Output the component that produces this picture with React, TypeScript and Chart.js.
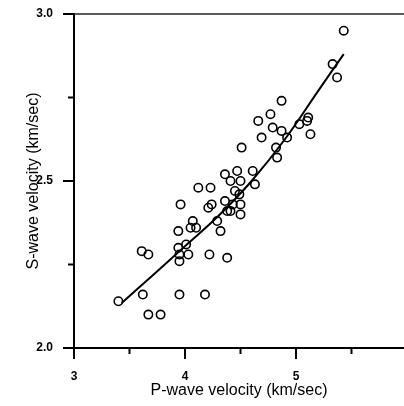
import { useEffect, useRef } from "react";
import { Chart, registerables } from "chart.js";

Chart.register(...registerables);

// Observed samples: P-wave velocity (km/sec) vs S-wave velocity (km/sec)
const pWave = [
  5.43, 5.33, 5.37, 4.87, 4.77, 4.66, 4.79, 4.87, 4.92, 4.69,
  4.51, 4.82, 4.83, 5.03, 5.10, 5.11, 5.13, 4.36, 4.47, 4.61,
  4.12, 4.23, 4.41, 4.50, 4.63, 3.96, 4.21, 4.24, 4.36, 4.43,
  4.50, 4.38, 4.50, 4.45, 4.49, 4.07, 4.05, 4.10, 4.29, 3.94,
  4.32, 4.01, 3.94, 3.61, 3.67, 3.95, 4.03, 3.95, 4.22, 4.38,
  3.40, 3.62, 3.95, 4.18, 3.67, 3.78, 4.41,
];
const sWave = [
  2.95, 2.85, 2.81, 2.74, 2.70, 2.68, 2.66, 2.65, 2.63, 2.63,
  2.60, 2.60, 2.57, 2.67, 2.68, 2.69, 2.64, 2.52, 2.53, 2.53,
  2.48, 2.48, 2.50, 2.50, 2.49, 2.43, 2.42, 2.43, 2.44, 2.43,
  2.43, 2.41, 2.40, 2.47, 2.46, 2.38, 2.36, 2.36, 2.38, 2.35,
  2.35, 2.31, 2.30, 2.29, 2.28, 2.28, 2.28, 2.26, 2.28, 2.27,
  2.14, 2.16, 2.16, 2.16, 2.10, 2.10, 2.41,
];

// Fitted curve
const fitP = [3.43, 3.7, 4.0, 4.3, 4.6, 4.9, 5.2, 5.43];
const fitS = [2.135, 2.215, 2.305, 2.395, 2.5, 2.625, 2.77, 2.88];

const xTickValues = [3, 3.5, 4, 4.5, 5, 5.5];
const xTickLabels = ["3", "", "4", "", "5", ""];
const yTickValues = [2, 2.25, 2.5, 2.75, 3];
const yTickLabels = ["2.0", "", "2.5", "", "3.0"];

const FONT = "'Liberation Sans', Arial, sans-serif";

const tickMarks = {
  id: "tickMarks",
  afterDraw(chart: any) {
    const ctx = chart.ctx;
    const { left, right, top, bottom } = chart.chartArea;
    const xs = chart.scales.x;
    const ys = chart.scales.y;
    ctx.save();
    ctx.strokeStyle = "#000";
    ctx.lineWidth = 2;
    xTickValues.forEach((v, i) => {
      const px = xs.getPixelForValue(v);
      const len = xTickLabels[i] ? 11 : 6;
      ctx.beginPath();
      ctx.moveTo(px, bottom);
      ctx.lineTo(px, bottom + len);
      ctx.stroke();
    });
    yTickValues.forEach((v, i) => {
      const py = ys.getPixelForValue(v);
      const len = yTickLabels[i] ? 11 : 6;
      ctx.beginPath();
      ctx.moveTo(left - len, py);
      ctx.lineTo(left, py);
      ctx.stroke();
    });
    ctx.strokeStyle = "#222";
    ctx.lineWidth = 1.5;
    ctx.beginPath();
    ctx.moveTo(left, top);
    ctx.lineTo(right, top);
    ctx.stroke();
    ctx.restore();
  },
};

export default function App() {
  const ref = useRef<HTMLCanvasElement>(null);

  useEffect(() => {
    document.body.style.margin = "0";
    const canvas = ref.current;
    if (!canvas) return;
    const chart = new Chart(canvas, {
      type: "scatter",
      data: {
        datasets: [
          {
            data: fitP.map((x, i) => ({ x, y: fitS[i] })),
            showLine: true,
            borderColor: "#000",
            borderWidth: 2,
            pointRadius: 0,
            tension: 0.4,
            fill: false,
          } as any,
          {
            data: pWave.map((x, i) => ({ x, y: sWave[i] })),
            pointRadius: 4.2,
            pointBorderWidth: 1.6,
            borderColor: "#000",
            backgroundColor: "rgba(0,0,0,0)",
            pointBackgroundColor: "rgba(0,0,0,0)",
            pointBorderColor: "#000",
            showLine: false,
          } as any,
        ],
      },
      options: {
        responsive: false,
        animation: false,
        events: [],
        layout: { autoPadding: false, padding: { top: 14, right: 0, left: 0, bottom: 0 } },
        plugins: {
          legend: { display: false },
          tooltip: { enabled: false },
        },
        scales: {
          x: {
            type: "linear",
            min: 3,
            max: 5.973,
            afterBuildTicks: (scale: any) => {
              scale.ticks = xTickValues.map((v) => ({ value: v }));
            },
            afterFit: (scale: any) => {
              scale.height = 58;
              scale.paddingLeft = 0;
              scale.paddingRight = 0;
            },
            grid: { display: false, drawTicks: false },
            border: { display: true, color: "#000", width: 2 },
            ticks: {
              padding: 21,
              color: "#000",
              font: { family: FONT, size: 12, weight: "bold" },
              maxRotation: 0,
              autoSkip: false,
              callback: (value: any) => {
                const i = xTickValues.indexOf(Number(value));
                return i >= 0 ? xTickLabels[i] : "";
              },
            },
            title: {
              display: true,
              text: "P-wave velocity (km/sec)",
              color: "#000",
              font: { family: FONT, size: 16 },
              padding: { top: 0, bottom: 6 },
            },
          },
          y: {
            type: "linear",
            min: 2,
            max: 3,
            afterBuildTicks: (scale: any) => {
              scale.ticks = yTickValues.map((v) => ({ value: v }));
            },
            afterFit: (scale: any) => {
              scale.width = 74;
              scale.paddingTop = 0;
              scale.paddingBottom = 0;
            },
            grid: { display: false, drawTicks: false },
            border: { display: true, color: "#000", width: 2 },
            ticks: {
              padding: 21,
              color: "#000",
              font: { family: FONT, size: 12, weight: "bold" },
              autoSkip: false,
              callback: (value: any) => {
                const i = yTickValues.indexOf(Number(value));
                return i >= 0 ? yTickLabels[i] : "";
              },
            },
            title: {
              display: true,
              text: "S-wave velocity (km/sec)",
              color: "#000",
              font: { family: FONT, size: 16 },
              padding: { top: 24, bottom: 0 },
            },
          },
        },
      },
      plugins: [tickMarks],
    });
    return () => chart.destroy();
  }, []);

  return (
    <div style={{ position: "absolute", left: 0, top: 0, width: 404, height: 406, background: "#fff" }}>
      <canvas ref={ref} width={404} height={406} style={{ display: "block" }} />
    </div>
  );
}
